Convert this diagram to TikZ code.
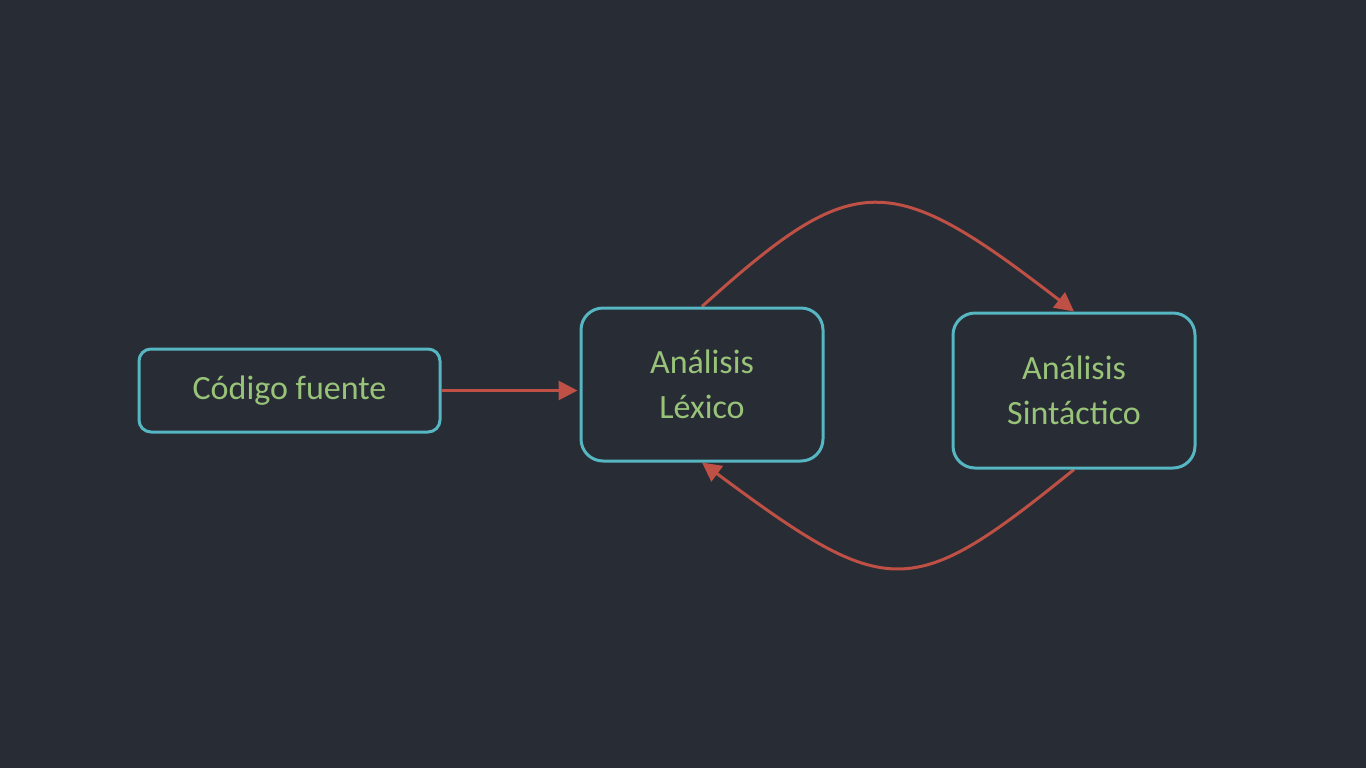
\documentclass[tikz,border=0pt]{standalone}
\usepackage{fontspec}
\setmainfont{Carlito}
\usetikzlibrary{arrows.meta}

\definecolor{bgdark}{HTML}{282C34}
\definecolor{boxcyan}{HTML}{56B6C2}
\definecolor{textgreen}{HTML}{98C379}
\definecolor{arrowred}{HTML}{BE5046}

\pgfdeclarelayer{bglayer}
\pgfdeclarelayer{edgelayer}
\pgfsetlayers{bglayer,edgelayer,main}

\tikzset{
  stage/.style={draw=boxcyan, line width=2.25pt, fill=bgdark, text=textgreen, inner sep=0pt, align=center,
    font=\fontsize{25.5}{34}\selectfont},
  flow/.style={draw=arrowred, line width=2.25pt, -{Triangle[length=14.25pt,width=14.25pt]}}
}

\begin{document}
\begin{tikzpicture}[x=0.75pt,y=0.75pt,yscale=-1,xscale=1,line width=2.25pt]
	%background, sets the page size
	\begin{pgfonlayer}{bglayer}
	\fill [bgdark] (0,0) rectangle (1366,768);
	\end{pgfonlayer}
	\useasboundingbox (0,0) rectangle (1366,768);
	
	%Stages
	\node [stage, rounded corners=9pt, minimum width=225.75pt, minimum height=62.25pt] (cod) at (289.5,390.5) {Código fuente};
	\node [stage, rounded corners=16.5pt, minimum width=181.5pt, minimum height=114.75pt] (lex) at (702,384.5) {Análisis\\Léxico};
	\node [stage, rounded corners=16.5pt, minimum width=181.5pt, minimum height=116.25pt] (sin) at (1074,390.5) {Análisis\\Sintáctico};
	
	%Connectors
	\begin{pgfonlayer}{edgelayer}
	\draw [flow, shorten >=1.5pt] (cod.east) -- (cod.east -| lex.west);
	\draw [flow] (lex.north) .. controls +(153,-138) and +(-185,-143) .. (sin.north);
	\draw [flow] (sin.south) .. controls +(-163,132) and +(187,139) .. (lex.south);
	\end{pgfonlayer}
	
\end{tikzpicture}
\end{document}
